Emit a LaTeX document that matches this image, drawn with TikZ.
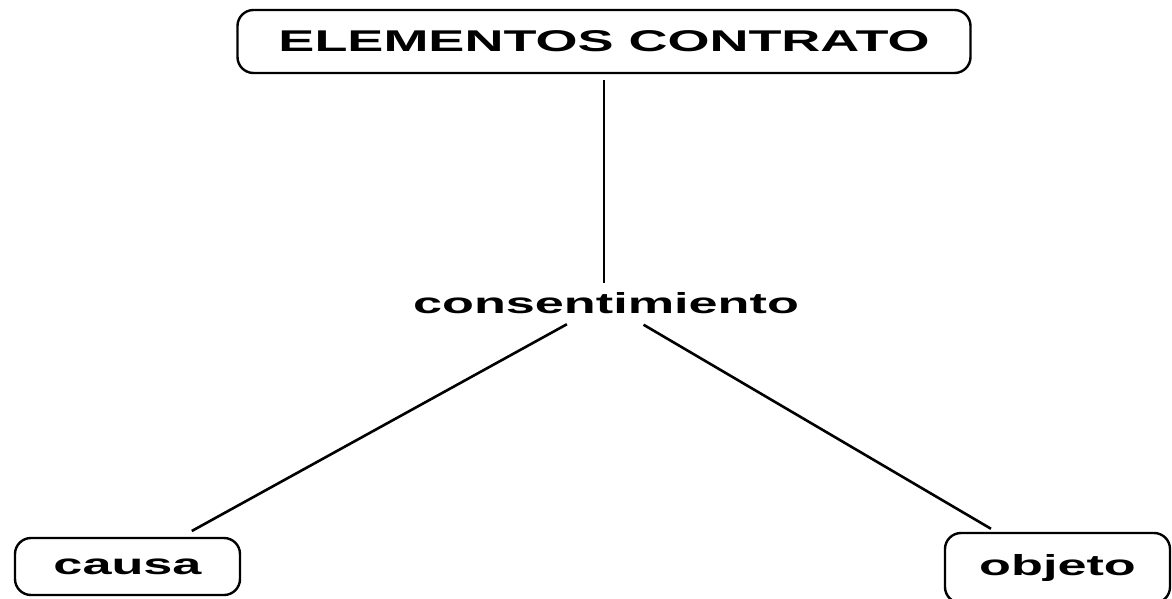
\documentclass[tikz,border=0pt]{standalone}
\usepackage{fontspec}
\setmainfont{Liberation Sans}[FakeStretch=1.8]
\usepackage{tikz}
\usetikzlibrary{positioning}

\begin{document}
\begin{tikzpicture}[x=1pt,y=-1pt,line width=2.6pt,
  caja/.style={draw,rounded corners=16pt,line width=2.4pt,inner sep=0pt},
  texto/.style={font=\bfseries\fontsize{29}{29}\selectfont}]
\useasboundingbox (0,0) rectangle (1172,599);
\node[caja,minimum width=733pt,minimum height=63pt,
  font=\bfseries\fontsize{30}{30}\selectfont](E) at (604,41.5) {ELEMENTOS CONTRATO};
\node[texto,inner sep=0pt,anchor=base](C) at (606,313) {consentimiento};
\node[caja,texto,minimum width=225pt,minimum height=57pt](Ca) at (127.5,566.5) {causa};
\node[caja,texto,minimum width=225pt,minimum height=70pt](O) at (1057.5,568) {objeto};
\draw[shorten <=6pt,shorten >=8pt] (E) to (E |- C.north);
\draw[shorten <=20pt,shorten >=12pt] (C) to (Ca);
\draw[shorten <=20pt,shorten >=6pt] (C) to (O);
\end{tikzpicture}
\end{document}
